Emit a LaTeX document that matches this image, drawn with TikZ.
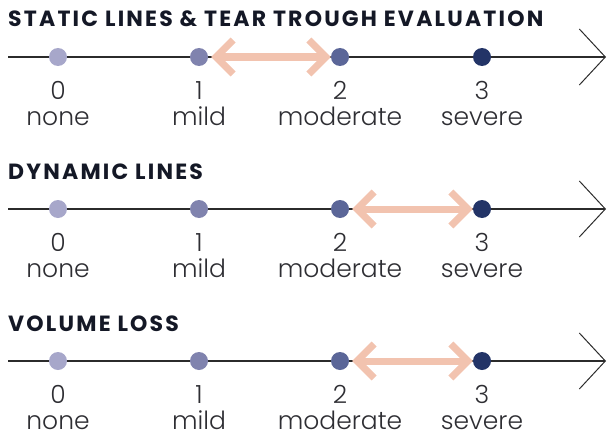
\documentclass[tikz,border=0pt]{standalone}
\usepackage{fontspec}
\setmainfont{Poppins}
\newfontfamily\lightfont{Poppins Light}
\newfontfamily\headfont{Poppins}[LetterSpace=10]
\usetikzlibrary{arrows.meta}
\definecolor{dotnone}{HTML}{A7A7CA}
\definecolor{dotmild}{HTML}{8083AE}
\definecolor{dotmoderate}{HTML}{5B6698}
\definecolor{dotsevere}{HTML}{233467}
\definecolor{axisgray}{HTML}{2B2B2B}
\definecolor{labelgray}{HTML}{2E2E33}
\definecolor{titlenavy}{HTML}{141826}
\definecolor{rangepink}{HTML}{F2C3AF}
\tikzset{
  axis/.style={draw=axisgray, line width=1.2pt,
    -{Straight Barb[length=26pt,width=56pt,line width=1pt]}},
  dot/.style={circle, fill=#1, inner sep=0pt, minimum size=18pt},
  num/.style={anchor=base, inner sep=0pt, text depth=0pt, text=labelgray,
    font=\lightfont\fontsize{25}{25}\selectfont},
  heading/.style={anchor=base west, inner sep=0pt, text=titlenavy,
    font=\headfont\bfseries\fontsize{22}{22}\selectfont},
  spanarrow/.style={draw=rangepink, line width=7pt, shorten <=3pt,
    {Straight Barb[length=17pt,width=34pt]}-{Straight Barb[length=17pt,width=34pt]}}
}
\begin{document}
\begin{tikzpicture}[x=1pt,y=-1pt]
  \useasboundingbox (0,0) rectangle (607,436);
  % static lines
  \node[heading] (t1) at (8,27) {STATIC LINES \& TEAR TROUGH EVALUATION};
  \coordinate (s1) at (8,57);
  \coordinate (e1) at (606,57);
  \draw[axis] (s1) -- (e1);
  \node[dot=dotnone] (a0) at (58,57) {};
  \node[dot=dotmild] (a1) at (199,57) {};
  \node[dot=dotmoderate] (a2) at (340,57) {};
  \node[dot=dotsevere] (a3) at (482,57) {};
  \draw[spanarrow] (a1) -- (a2);
  \node[num] at (58,99) {0};
  \node[num] at (199,99) {1};
  \node[num] at (340,99) {2};
  \node[num] at (482,99) {3};
  \node[num] at (58,125) {none};
  \node[num] at (199,125) {mild};
  \node[num] at (340,125) {moderate};
  \node[num] at (482,125) {severe};
  % dynamic lines
  \node[heading] (t2) at (8,179) {DYNAMIC LINES};
  \coordinate (s2) at (8,209);
  \coordinate (e2) at (606,209);
  \draw[axis] (s2) -- (e2);
  \node[dot=dotnone] (b0) at (58,209) {};
  \node[dot=dotmild] (b1) at (199,209) {};
  \node[dot=dotmoderate] (b2) at (340,209) {};
  \node[dot=dotsevere] (b3) at (482,209) {};
  \draw[spanarrow] (b2) -- (b3);
  \node[num] at (58,251) {0};
  \node[num] at (199,251) {1};
  \node[num] at (340,251) {2};
  \node[num] at (482,251) {3};
  \node[num] at (58,277) {none};
  \node[num] at (199,277) {mild};
  \node[num] at (340,277) {moderate};
  \node[num] at (482,277) {severe};
  % volume loss
  \node[heading] (t3) at (8,331) {VOLUME LOSS};
  \coordinate (s3) at (8,361);
  \coordinate (e3) at (606,361);
  \draw[axis] (s3) -- (e3);
  \node[dot=dotnone] (c0) at (58,361) {};
  \node[dot=dotmild] (c1) at (199,361) {};
  \node[dot=dotmoderate] (c2) at (340,361) {};
  \node[dot=dotsevere] (c3) at (482,361) {};
  \draw[spanarrow] (c2) -- (c3);
  \node[num] at (58,403) {0};
  \node[num] at (199,403) {1};
  \node[num] at (340,403) {2};
  \node[num] at (482,403) {3};
  \node[num] at (58,429) {none};
  \node[num] at (199,429) {mild};
  \node[num] at (340,429) {moderate};
  \node[num] at (482,429) {severe};
\end{tikzpicture}
\end{document}
